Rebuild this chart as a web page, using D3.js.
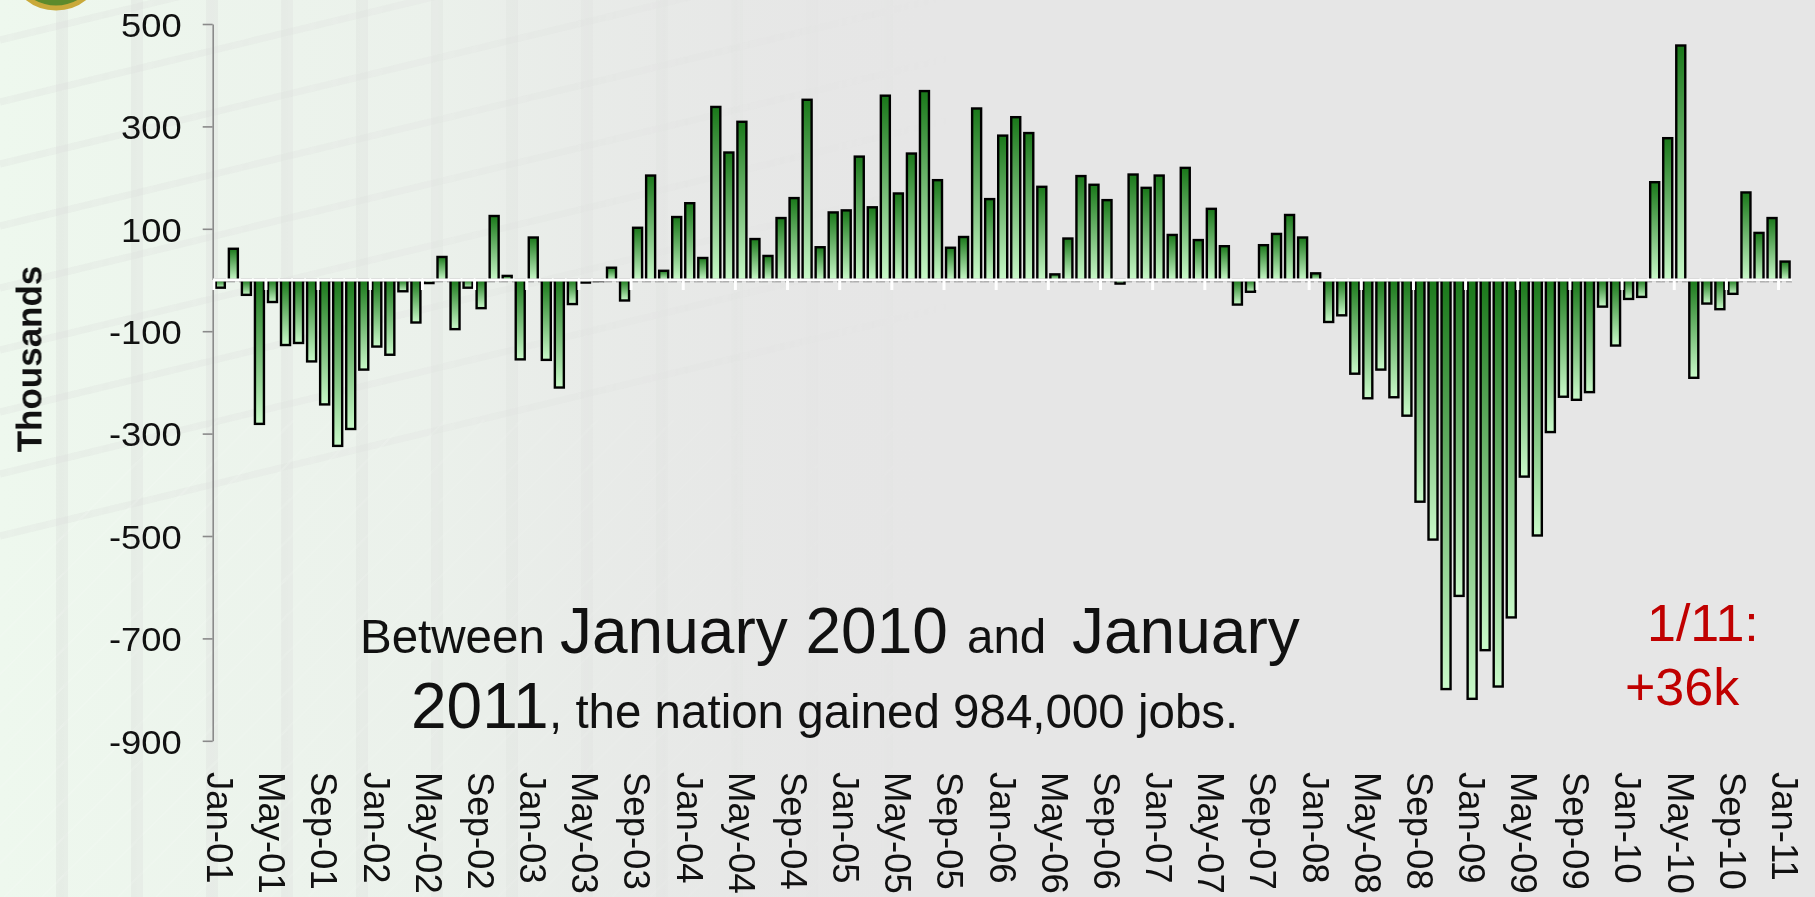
<!DOCTYPE html>
<html>
<head>
<meta charset="utf-8">
<script src="https://cdn.jsdelivr.net/npm/d3@7/dist/d3.min.js"></script>
<style>
  html, body { margin: 0; padding: 0; background: #e6e6e6; overflow: hidden; }
  svg { display: block; }
  text { font-family: "Liberation Sans", Arial, Helvetica, sans-serif; }
</style>
</head>
<body>
<svg id="chart" width="1815" height="897"></svg>
<script>
// Monthly change in nonfarm payroll employment, thousands, Jan 2001 - Jan 2011
const firstMonth = new Date(2001, 0, 1);
const jobChanges = [
  -15, 61, -29, -281, -43, -127, -123, -159, -243, -324, -291, -175,      // 2001
  -130, -146, -22, -83, -6, 45, -96, -15, -55, 125, 8, -155,              // 2002
  83, -156, -210, -47, -5, -2, 24, -40, 102, 204, 18, 123,                // 2003
  150, 43, 338, 249, 309, 80, 47, 121, 160, 352, 64, 132,                 // 2004
  136, 241, 142, 360, 169, 247, 369, 195, 63, 84, 335, 158,               // 2005
  282, 318, 287, 182, 11, 81, 203, 186, 156, -7, 206, 180,                // 2006
  204, 88, 219, 78, 139, 66, -48, -23, 68, 90, 127, 83,                   // 2007
  13, -82, -69, -183, -231, -175, -229, -265, -433, -507, -799, -617,     // 2008
  -818, -723, -794, -659, -384, -499, -297, -228, -234, -219, -52, -128,  // 2009
  -37, -33, 191, 277, 458, -191, -46, -57, -27, 171, 92, 121,             // 2010
  36                                                                       // 2011
];
const yTicks = [500, 300, 100, -100, -300, -500, -700, -900];
const xTickLabels = [
  "Jan-01", "May-01", "Sep-01", "Jan-02", "May-02", "Sep-02", "Jan-03", "May-03",
  "Sep-03", "Jan-04", "May-04", "Sep-04", "Jan-05", "May-05", "Sep-05", "Jan-06",
  "May-06", "Sep-06", "Jan-07", "May-07", "Sep-07", "Jan-08", "May-08", "Sep-08",
  "Jan-09", "May-09", "Sep-09", "Jan-10", "May-10", "Sep-10", "Jan-11"
];
const labelEvery = 4;
const axisTitle = "Thousands";
const noteLine1 = ["Between", "January 2010", "and", "January"];
const noteLine2 = ["2011", ", the nation gained 984,000 jobs."];
const callout = ["1/11:", "+36k"];

const months = d3.timeMonth.range(firstMonth, d3.timeMonth.offset(firstMonth, jobChanges.length));
const fmtMonth = d3.timeFormat("%b-%y");
const data = months.map((m, i) => ({ key: fmtMonth(m), value: jobChanges[i], i }));

const svg = d3.select("#chart");
const W = 1815, H = 897;

// ---------- background: grey slide with a faint glass facade on the left ----------
const defs = svg.append("defs");

const glow = defs.append("linearGradient").attr("id", "leftGlow")
  .attr("x1", 0).attr("x2", 1).attr("y1", 0).attr("y2", 0);
glow.append("stop").attr("offset", "0%").attr("stop-color", "#eef8ee").attr("stop-opacity", 1);
glow.append("stop").attr("offset", "45%").attr("stop-color", "#ecf3ec").attr("stop-opacity", 0.85);
glow.append("stop").attr("offset", "100%").attr("stop-color", "#e6e6e6").attr("stop-opacity", 0);

const fade = defs.append("linearGradient").attr("id", "facadeFade")
  .attr("gradientUnits", "userSpaceOnUse").attr("x1", 0).attr("x2", 950).attr("y1", 0).attr("y2", 0);
fade.append("stop").attr("offset", "0%").attr("stop-color", "#fff");
fade.append("stop").attr("offset", "60%").attr("stop-color", "#fff").attr("stop-opacity", 0.6);
fade.append("stop").attr("offset", "100%").attr("stop-color", "#fff").attr("stop-opacity", 0);
defs.append("mask").attr("id", "facadeMask")
  .append("rect").attr("width", W).attr("height", H).attr("fill", "url(#facadeFade)");

svg.append("rect").attr("width", W).attr("height", H).attr("fill", "#e6e6e6");
svg.append("rect").attr("width", 950).attr("height", H).attr("fill", "url(#leftGlow)");

const facade = svg.append("g").attr("mask", "url(#facadeMask)");
// vertical mullions
d3.range(62, 960, 75).forEach(cx => {
  facade.append("rect").attr("x", cx - 6).attr("y", 0).attr("width", 12).attr("height", H)
    .attr("fill", "#d9dcd9").attr("opacity", 0.38);
});
// slanted transoms in the upper part
d3.range(40, 560, 62).forEach(y0 => {
  facade.append("line").attr("x1", 0).attr("y1", y0).attr("x2", 950).attr("y2", y0 - 230)
    .attr("stroke", "#d9dcd9").attr("stroke-width", 7).attr("opacity", 0.28);
});
// thin diagonal reflections lower down
d3.range(-300, 900, 38).forEach(x0 => {
  facade.append("line").attr("x1", x0).attr("y1", H).attr("x2", x0 + 480).attr("y2", 420)
    .attr("stroke", "#ffffff").attr("stroke-width", 2).attr("opacity", 0.12);
});

// seal in the top-left corner
svg.append("circle").attr("cx", 56).attr("cy", -38).attr("r", 46)
  .attr("fill", "#5d8a2c").attr("stroke", "#c9a93a").attr("stroke-width", 5);

// ---------- scales ----------
const x = d3.scaleBand()
  .domain(data.map(d => d.i))
  .range([213.8, 1791.6])
  .paddingInner(0.31)
  .paddingOuter(0.155);

const y = d3.scaleLinear().domain([-900, 500]).range([740.8, 24]);
const y0 = y(0);
const step = x.step();

// ---------- bar gradient ----------
const barGrad = defs.append("linearGradient").attr("id", "barFill")
  .attr("x1", 0).attr("x2", 0).attr("y1", 0).attr("y2", 1);
barGrad.append("stop").attr("offset", "0%").attr("stop-color", "#1a781a");
barGrad.append("stop").attr("offset", "100%").attr("stop-color", "#c9f9c9");

// ---------- y axis ----------
const yAxis = svg.append("g")
  .attr("transform", "translate(212.7,0)")
  .call(d3.axisLeft(y).tickValues(yTicks).tickSize(10).tickSizeOuter(0).tickFormat(d => String(d)));
yAxis.select(".domain").attr("stroke", "#8a8a8a").attr("stroke-width", 1.6);
yAxis.selectAll(".tick line").attr("stroke", "#8a8a8a").attr("stroke-width", 1.6);
yAxis.selectAll(".tick text")
  .attr("font-size", 34)
  .attr("fill", "#111")
  .attr("text-anchor", "end")
  .attr("x", -31 / 1.07)
  .attr("dy", "0.36em")
  .attr("transform", "scale(1.07,1)");

svg.append("text")
  .attr("transform", "translate(41.5,359) rotate(-90)")
  .attr("text-anchor", "middle")
  .attr("font-size", 35)
  .attr("font-weight", "bold")
  .attr("fill", "#111")
  .text(axisTitle);

// ---------- bars ----------
svg.append("line")
  .attr("x1", 213).attr("x2", 1792).attr("y1", y0 + 1.6).attr("y2", y0 + 1.6)
  .attr("stroke", "#7a7a7a").attr("stroke-width", 1.2).attr("stroke-dasharray", "9,4");

svg.append("g").selectAll("rect")
  .data(data)
  .join("rect")
  .attr("x", d => x(d.i))
  .attr("width", x.bandwidth())
  .attr("y", d => Math.min(y(d.value), y0))
  .attr("height", d => Math.abs(y(d.value) - y0))
  .attr("fill", "url(#barFill)")
  .attr("stroke", "#000")
  .attr("stroke-width", 2.4);

// ---------- category axis on the zero line ----------
svg.append("line")
  .attr("x1", 213).attr("x2", 1792).attr("y1", y0).attr("y2", y0)
  .attr("stroke", "#ffffff").attr("stroke-width", 3);

const labelled = data.filter(d => d.i % labelEvery === 0);
svg.append("g").selectAll("line")
  .data(labelled)
  .join("line")
  .attr("x1", d => x(d.i) - (step - x.bandwidth()) / 2)
  .attr("x2", d => x(d.i) - (step - x.bandwidth()) / 2)
  .attr("y1", y0).attr("y2", y0 + 10)
  .attr("stroke", "#ffffff").attr("stroke-width", 3);

const xAxis = svg.append("g")
  .attr("transform", "translate(0,772)")
  .call(d3.axisBottom(x)
    .tickValues(labelled.map(d => d.i))
    .tickSize(0)
    .tickFormat((d, k) => xTickLabels[k]));
xAxis.select(".domain").remove();
xAxis.selectAll(".tick text")
  .attr("font-size", 36.5)
  .attr("fill", "#111")
  .attr("text-anchor", "start")
  .attr("x", 0).attr("y", 0)
  .attr("dy", "0.36em")
  .attr("transform", "rotate(90)");

// ---------- annotations ----------
const small = 47.5, big = 64;
const note = svg.append("g").attr("fill", "#111");
const l1 = note.append("text").attr("y", 653);
l1.append("tspan").attr("x", 360).attr("font-size", small).text(noteLine1[0]);
l1.append("tspan").attr("x", 560).attr("font-size", big).text(noteLine1[1]);
l1.append("tspan").attr("x", 967).attr("font-size", small).text(noteLine1[2]);
l1.append("tspan").attr("x", 1072).attr("font-size", big).text(noteLine1[3]);
const l2 = note.append("text").attr("y", 728);
l2.append("tspan").attr("x", 411).attr("font-size", big).text(noteLine2[0]);
l2.append("tspan").attr("x", 549).attr("font-size", small).text(noteLine2[1]);

const red = svg.append("g").attr("fill", "#c00000").attr("font-size", 52);
red.append("text").attr("x", 1647).attr("y", 640.5).text(callout[0]);
red.append("text").attr("x", 1625).attr("y", 705).text(callout[1]);
</script>
</body>
</html>
